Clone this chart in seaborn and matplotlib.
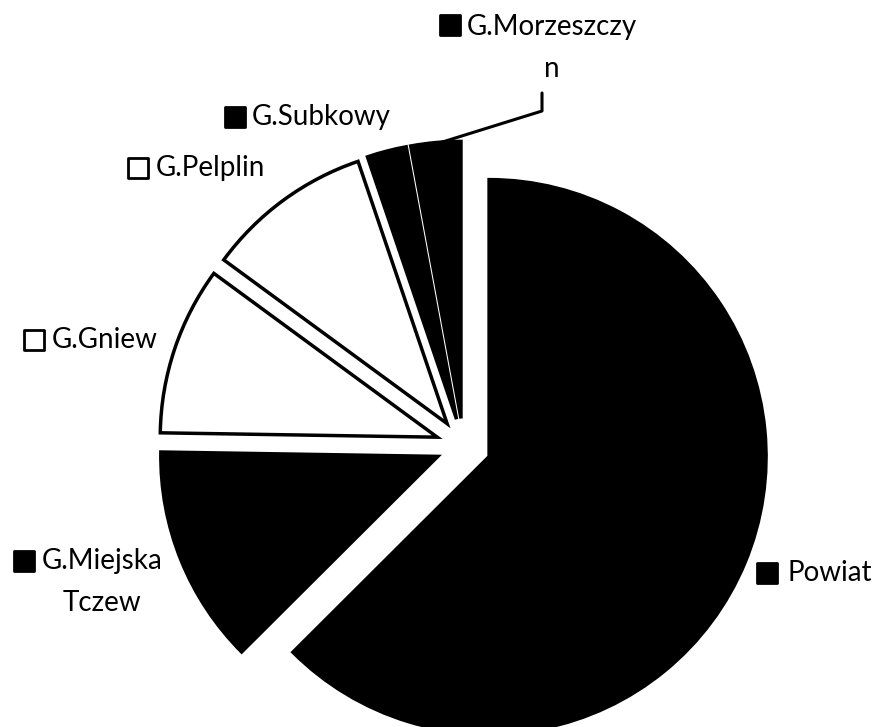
"""
Pie chart: share of Powiat and gminas (Excel-style exploded pie)
"""

import matplotlib
matplotlib.use("Agg")
import matplotlib.pyplot as plt
import seaborn as sns

# ===========================
# Data
# ===========================
labels = ["Powiat", "G.Miejska\nTczew", "G.Gniew", "G.Pelplin", "G.Subkowy", "G.Morzeszczy\nn"]
shares = [62.4, 12.7, 9.8, 9.7, 2.3, 2.9]
colors = ["black", "black", "white", "white", "black", "black"]

# ===========================
# Layout (pixel positions of the labels in the 873x727 picture)
# ===========================
W, H = 873, 727
CX, CY, R = 463.5, 446.0, 277.0   # pie centre and radius in pixels

# (x, y, horizontal alignment) of each label text
label_pos = {
    "Powiat": (787, 573, "left"),
    "G.Miejska\nTczew": (102, 582, "center"),
    "G.Gniew": (52, 340, "left"),
    "G.Pelplin": (156, 168, "left"),
    "G.Subkowy": (252, 117, "left"),
    "G.Morzeszczy\nn": (552, 48, "center"),
}
marker_pos = {
    "Powiat": (767, 573),
    "G.Miejska\nTczew": (24, 561),
    "G.Gniew": (34, 340),
    "G.Pelplin": (138, 168),
    "G.Subkowy": (235, 117),
    "G.Morzeszczy\nn": (450, 25),
}


def px(x, y):
    return (x - CX) / R, (CY - y) / R


sns.set_theme(style="white")
plt.rcParams["font.family"] = ["Lato", "DejaVu Sans"]

fig = plt.figure(figsize=(W / 100, H / 100), dpi=100)
ax = fig.add_axes([0, 0, 1, 1])

ax.pie(
    shares,
    colors=colors,
    explode=[0.1] * len(shares),
    startangle=90,
    counterclock=False,
    radius=1,
    wedgeprops=dict(edgecolor="black", linewidth=2.5),
)

for lab, col in zip(labels, colors):
    x0, y0, ha = label_pos[lab]
    tx, ty = px(x0, y0)
    ax.text(tx, ty, lab, ha=ha, va="center", fontsize=20,
            color="black", linespacing=1.75, multialignment="center")
    mx, my = px(*marker_pos[lab])
    ax.scatter([mx], [my], marker="s", s=200, facecolor=col,
               edgecolor="black", linewidth=2, zorder=5)

# leader line for G.Morzeszczyn
lx, ly = zip(px(542, 93), px(542, 111), px(436, 144))
ax.plot(lx, ly, color="black", linewidth=2.2)

ax.set_xlim(-CX / R, (W - CX) / R)
ax.set_ylim(-(H - CY) / R, CY / R)
ax.set_aspect("equal")
ax.axis("off")

fig.savefig("out.png", dpi=100, facecolor="white")
